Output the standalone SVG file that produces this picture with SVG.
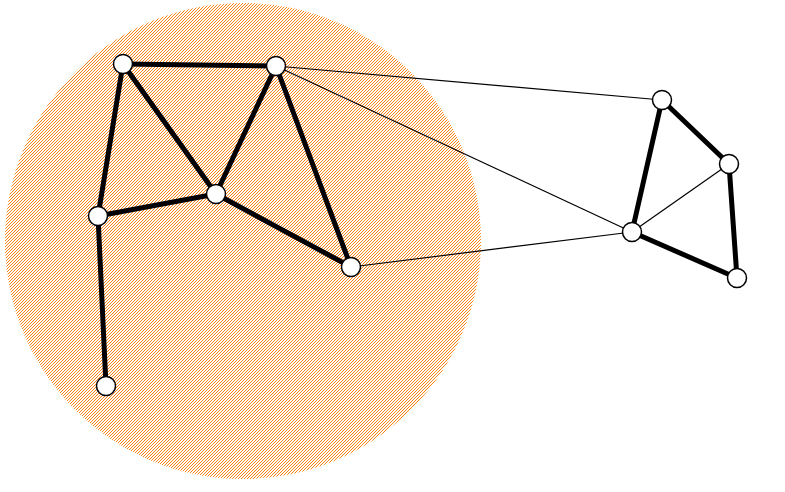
<svg xmlns="http://www.w3.org/2000/svg" width="785" height="492" viewBox="0 0 785 492">
<style>
.thick{stroke:#000;stroke-width:5;stroke-linecap:round}
.thin{stroke:#000;stroke-width:1.2}
.node{fill:#fff;stroke:#000;stroke-width:1.5}
</style>
<defs>
<pattern id="hatch" width="3" height="3" patternUnits="userSpaceOnUse">
<g fill="#ff8214" shape-rendering="crispEdges">
<rect x="0" y="2" width="1" height="1"/>
<rect x="1" y="1" width="1" height="1"/>
<rect x="2" y="0" width="1" height="1"/>
</g>
</pattern>
</defs>
<rect width="785" height="492" fill="#fff"/>
<circle id="region" cx="243" cy="241" r="238" fill="url(#hatch)"/>
<g id="connectors">
<line class="thick" x1="123" y1="64" x2="276" y2="66"/>
<line class="thick" x1="123" y1="64" x2="216" y2="194"/>
<line class="thick" x1="123" y1="64" x2="98" y2="216"/>
<line class="thick" x1="276" y1="66" x2="216" y2="194"/>
<line class="thick" x1="276" y1="66" x2="351" y2="267"/>
<line class="thick" x1="216" y1="194" x2="98" y2="216"/>
<line class="thick" x1="216" y1="194" x2="351" y2="267"/>
<line class="thick" x1="98" y1="216" x2="106" y2="386"/>
<line class="thick" x1="662" y1="100" x2="632" y2="232"/>
<line class="thick" x1="662" y1="100" x2="729" y2="164"/>
<line class="thick" x1="729" y1="164" x2="737" y2="278"/>
<line class="thick" x1="632" y1="232" x2="737" y2="278"/>
<line class="thin" x1="276" y1="66" x2="662" y2="100"/>
<line class="thin" x1="276" y1="66" x2="632" y2="232"/>
<line class="thin" x1="351" y1="267" x2="632" y2="232"/>
<line class="thin" x1="632" y1="232" x2="729" y2="164"/>
</g>
<g id="n1"><circle class="node" cx="123" cy="64" r="9.5"/></g>
<g id="n2"><circle class="node" cx="276" cy="66" r="9.5"/></g>
<g id="n3"><circle class="node" cx="216" cy="194" r="9.5"/></g>
<g id="n4"><circle class="node" cx="98" cy="216" r="9.5"/></g>
<g id="n5"><circle class="node" cx="106" cy="386" r="9.5"/></g>
<g id="n6"><circle class="node" cx="351" cy="267" r="9.5"/></g>
<g id="n7"><circle class="node" cx="662" cy="100" r="9.5"/></g>
<g id="n8"><circle class="node" cx="729" cy="164" r="9.5"/></g>
<g id="n9"><circle class="node" cx="632" cy="232" r="9.5"/></g>
<g id="n10"><circle class="node" cx="737" cy="278" r="9.5"/></g>
</svg>
